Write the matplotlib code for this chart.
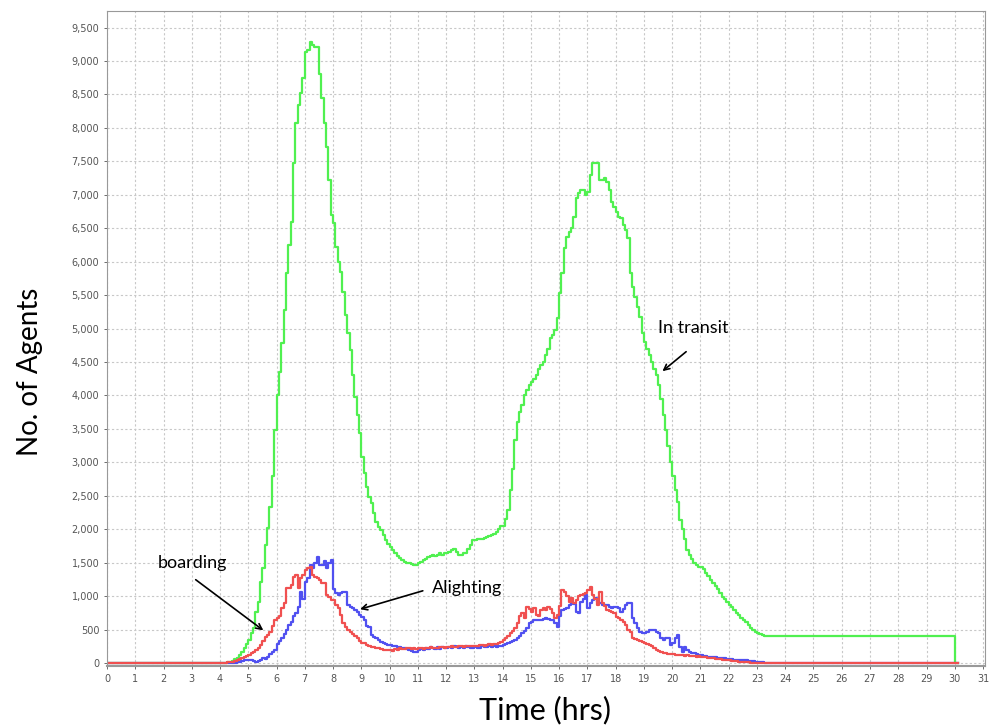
import numpy as np
import matplotlib
matplotlib.use('Agg')
import matplotlib.pyplot as plt
from matplotlib.ticker import FuncFormatter, MultipleLocator

# 5-minute bins, one row of 12 values per hour, from 4:00 to 23:55
in_transit_4_24 = [
    [0, 0, 0, 10, 20, 35, 55, 80, 120, 170, 230, 290],                           # 4
    [340, 444, 520, 767, 916, 1216, 1415, 1764, 2020, 2337, 2800, 3483],         # 5
    [4007, 4355, 4780, 5277, 5826, 6250, 6600, 7475, 8078, 8342, 8517, 8741],    # 6
    [9140, 9165, 9290, 9240, 9215, 9215, 8800, 8440, 8070, 7720, 7220, 6700],    # 7
    [6574, 6225, 6000, 5850, 5551, 5203, 4929, 4679, 4306, 3981, 3708, 3434],    # 8
    [3084, 2836, 2636, 2486, 2387, 2238, 2112, 2038, 1988, 1913, 1839, 1780],    # 9
    [1740, 1690, 1650, 1600, 1570, 1540, 1515, 1500, 1490, 1480, 1465, 1465],    # 10
    [1500, 1515, 1540, 1560, 1580, 1600, 1615, 1600, 1620, 1640, 1620, 1640],    # 11
    [1640, 1660, 1690, 1700, 1660, 1615, 1620, 1640, 1640, 1700, 1760, 1839],    # 12
    [1840, 1850, 1860, 1860, 1870, 1880, 1900, 1910, 1930, 1960, 2000, 2050],    # 13
    [2050, 2150, 2290, 2590, 2900, 3330, 3600, 3750, 3860, 4000, 4080, 4150],    # 14
    [4200, 4250, 4300, 4400, 4450, 4500, 4600, 4700, 4854, 4900, 4978, 5153],    # 15
    [5527, 5826, 6200, 6374, 6448, 6499, 6673, 6947, 7032, 7071, 7071, 6997],    # 16
    [7046, 7296, 7480, 7470, 7470, 7221, 7221, 7246, 7196, 7071, 6897, 6822],    # 17
    [6747, 6673, 6648, 6550, 6473, 6349, 5826, 5626, 5477, 5327, 5177, 4929],    # 18
    [4800, 4700, 4600, 4500, 4400, 4300, 4150, 3950, 3700, 3480, 3250, 3000],    # 19
    [2800, 2590, 2400, 2140, 2000, 1850, 1690, 1620, 1550, 1500, 1470, 1435],    # 20
    [1435, 1400, 1350, 1300, 1240, 1200, 1150, 1100, 1050, 990, 950, 910],       # 21
    [870, 830, 790, 750, 718, 680, 643, 610, 568, 530, 493, 460],                # 22
    [444, 430, 415, 405, 404, 404, 404, 404, 404, 404, 404, 404],                # 23
]
boarding_4_24 = [
    [0, 0, 5, 10, 15, 20, 30, 40, 55, 70, 85, 100],
    [120, 150, 170, 200, 230, 269, 330, 394, 420, 468, 560, 643],
    [680, 700, 817, 900, 1117, 1117, 1160, 1290, 1315, 1117, 1265, 1315],
    [1390, 1415, 1440, 1315, 1290, 1265, 1240, 1190, 1190, 1015, 990, 940],
    [940, 870, 815, 718, 593, 543, 500, 468, 440, 400, 369, 330],
    [300, 294, 270, 254, 244, 240, 230, 220, 210, 200, 194, 190],
    [190, 185, 210, 200, 220, 215, 210, 220, 225, 215, 220, 215],
    [220, 225, 215, 230, 220, 235, 225, 230, 220, 235, 240, 230],
    [240, 235, 250, 245, 240, 250, 255, 245, 250, 260, 250, 255],
    [260, 255, 265, 270, 260, 275, 280, 270, 285, 290, 300, 320],
    [340, 370, 400, 444, 480, 530, 593, 700, 743, 668, 842, 800],
    [760, 820, 720, 700, 790, 817, 792, 842, 810, 743, 668, 720],
    [850, 1091, 1065, 1000, 916, 967, 892, 940, 1000, 1016, 1030, 1042],
    [1091, 1141, 1016, 960, 867, 1065, 892, 850, 792, 780, 767, 740],
    [692, 670, 643, 610, 568, 500, 468, 369, 360, 344, 330, 319],
    [300, 280, 269, 250, 230, 194, 175, 160, 150, 145, 140, 135],
    [130, 125, 120, 120, 125, 110, 120, 110, 105, 100, 95, 100],
    [95, 90, 85, 80, 70, 70, 65, 60, 55, 50, 45, 45],
    [40, 35, 30, 25, 20, 15, 12, 10, 8, 5, 3, 0],
    [0, 0, 0, 0, 0, 0, 0, 0, 0, 0, 0, 0],
]
alighting_4_24 = [
    [0, 0, 0, 0, 0, 0, 0, 10, 20, 30, 40, 45],
    [45, 40, 30, 20, 25, 45, 70, 65, 95, 130, 169, 194],
    [280, 330, 369, 430, 493, 568, 618, 700, 743, 842, 1066, 950],
    [1216, 1266, 1465, 1415, 1500, 1589, 1465, 1470, 1520, 1415, 1490, 1540],
    [1100, 1040, 1016, 1040, 1065, 1065, 867, 840, 817, 790, 767, 720],
    [690, 643, 560, 543, 419, 394, 369, 350, 319, 300, 280, 269],
    [269, 260, 250, 245, 240, 230, 220, 210, 200, 180, 160, 170],
    [190, 210, 200, 230, 215, 240, 220, 210, 235, 215, 240, 225],
    [230, 240, 220, 250, 235, 225, 245, 230, 250, 240, 220, 230],
    [240, 225, 230, 250, 240, 235, 250, 245, 255, 240, 250, 260],
    [270, 280, 300, 319, 330, 350, 369, 400, 444, 480, 520, 593],
    [610, 643, 640, 643, 650, 660, 668, 660, 650, 643, 593, 543],
    [700, 792, 800, 817, 870, 916, 880, 767, 742, 916, 950, 1016],
    [817, 900, 942, 967, 916, 890, 867, 870, 867, 840, 817, 830],
    [842, 820, 767, 800, 867, 892, 892, 668, 600, 518, 470, 444],
    [450, 468, 493, 493, 493, 468, 444, 369, 344, 369, 369, 269],
    [294, 380, 419, 244, 169, 244, 194, 170, 150, 145, 135, 125],
    [120, 110, 100, 95, 95, 90, 85, 80, 75, 70, 70, 65],
    [60, 55, 50, 45, 45, 45, 45, 40, 35, 30, 25, 20],
    [20, 15, 10, 5, 3, 0, 0, 0, 0, 0, 0, 0],
]
# before 4:00 nothing happens; after midnight only the in-transit plateau remains until 30:00
before_4 = 0
in_transit_after_24 = 404
others_after_24 = 0

bins_per_hour = 12
end_hour = 30


def full_series(rows, tail_value):
    head = [before_4] * (4 * bins_per_hour)
    body = [v for row in rows for v in row]
    tail = [tail_value] * ((end_hour - 24) * bins_per_hour)
    return np.array(head + body + tail + [0, 0], dtype=float)


n_bins = end_hour * bins_per_hour
t = np.append(np.arange(n_bins) / bins_per_hour, [end_hour, end_hour + 0.1])

green = full_series(in_transit_4_24, in_transit_after_24)
red = full_series(boarding_4_24, others_after_24)
blue = full_series(alighting_4_24, others_after_24)

fig = plt.figure(figsize=(9.95, 7.26), dpi=100)
ax = fig.add_axes([107 / 995, 1 - 666 / 726, 878 / 995, 655 / 726])

ax.step(t, green, where='post', color='#50F050', lw=1.6)
ax.step(t, blue, where='post', color='#5050F0', lw=1.6)
ax.step(t, red, where='post', color='#F05050', lw=1.6)

ax.set_xlim(0, 31.07)
ax.set_ylim(-45, 9747)
ax.xaxis.set_major_locator(MultipleLocator(1))
ax.yaxis.set_major_locator(MultipleLocator(500))
ax.yaxis.set_major_formatter(FuncFormatter(lambda v, p: f'{int(v):,}'))
ax.tick_params(axis='both', labelsize=7, colors='#555555', length=2, width=0.6)
ax.grid(True, color='#c8c8c8', linestyle=(0, (2, 2)), linewidth=0.8)
for s in ax.spines.values():
    s.set_color('#999999')
ax.spines['bottom'].set_linewidth(1.5)

# axis titles placed in figure pixels, as in the original slide
fig.text(30 / 995, 1 - 372 / 726, 'No. of Agents', fontsize=20, fontname='Lato',
         rotation=90, ha='center', va='center')
fig.text(545 / 995, 1 - 710 / 726, 'Time (hrs)', fontsize=22, fontname='Lato',
         ha='center', va='center')

# annotations
ax.text(3.02, 1495, 'boarding', fontsize=13, fontname='Lato', ha='center', va='center')
ax.annotate('', xy=(5.61, 463), xytext=(3.06, 1270),
            arrowprops=dict(arrowstyle='->', color='black', lw=1.2))
ax.text(12.75, 1121, 'Alighting', fontsize=13, fontname='Lato', ha='center', va='center')
ax.annotate('', xy=(8.86, 792), xytext=(11.27, 1091),
            arrowprops=dict(arrowstyle='->', color='black', lw=1.2))
ax.text(20.74, 5008, 'In transit', fontsize=13, fontname='Lato', ha='center', va='center')
ax.annotate('', xy=(19.58, 4336), xytext=(20.57, 4680),
            arrowprops=dict(arrowstyle='->', color='black', lw=1.2))

fig.savefig('out.png', dpi=100)
